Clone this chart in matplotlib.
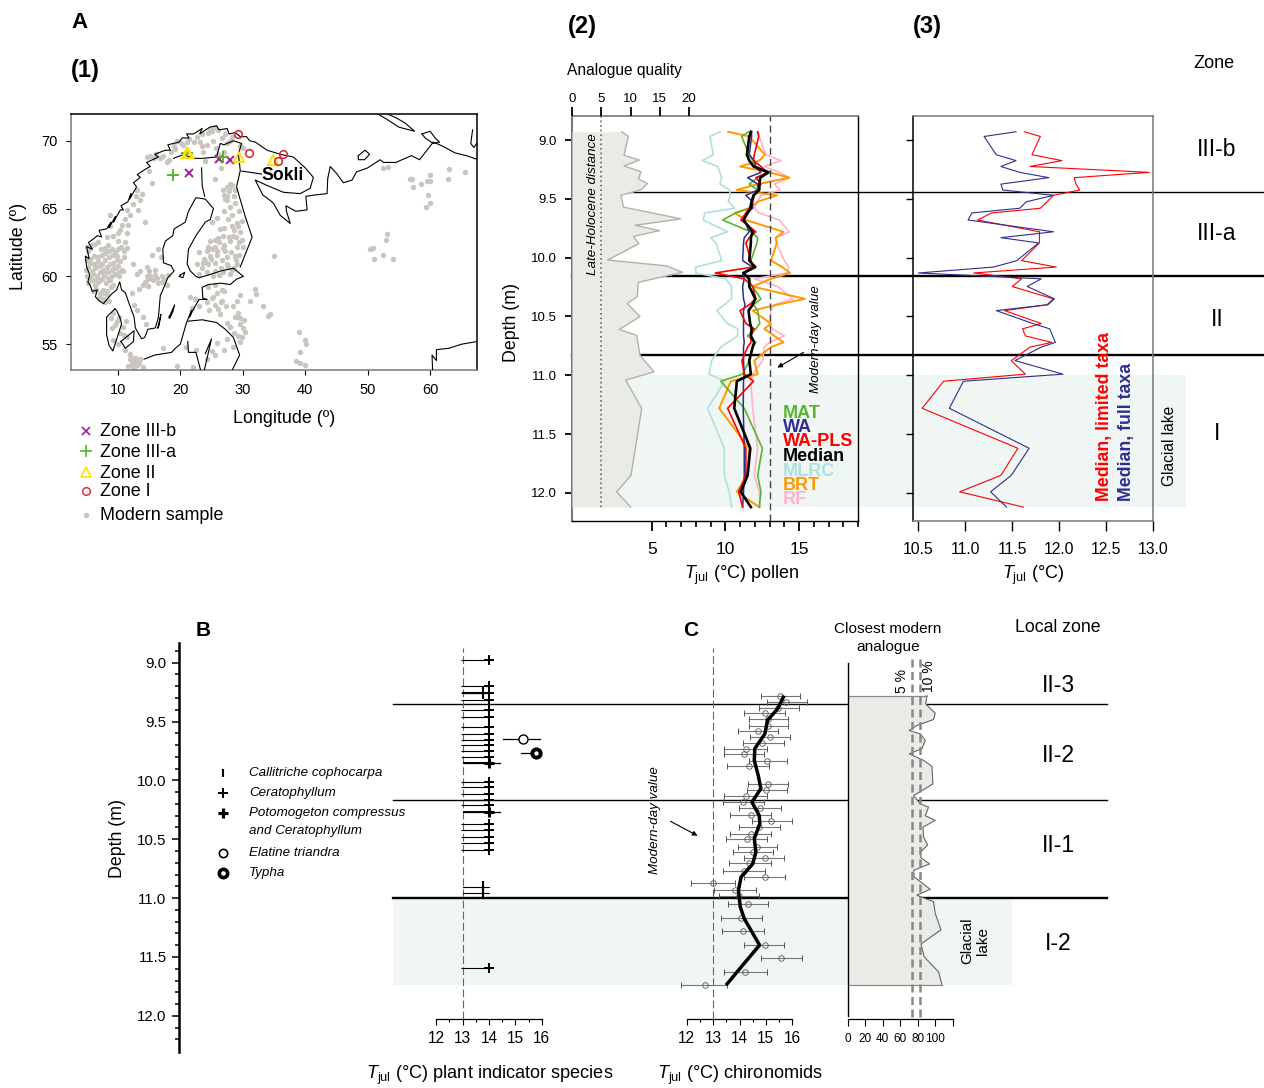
import matplotlib
matplotlib.use('Agg')
import matplotlib.pyplot as plt
from matplotlib.lines import Line2D
from matplotlib.patches import Rectangle
from matplotlib.transforms import blended_transform_factory

plt.rcParams['font.family'] = ['Liberation Sans', 'DejaVu Sans']
plt.rcParams['mathtext.fontset'] = 'custom'
plt.rcParams['mathtext.rm'] = 'Liberation Sans'
plt.rcParams['mathtext.it'] = 'Liberation Sans:italic'
plt.rcParams['mathtext.bf'] = 'Liberation Sans:bold'

W, H = 1264, 1088
GRAY = '#777777'

# map: modern samples (lon, lat)
sample_lon = [25.6,24.8,23.2,23.7,22.2,19.5,19.0,14.7,15.8,16.8,17.9,15.0,15.5,13.6,13.3,11.5,14.4,8.8,10.4,11.5,
    28.0,27.5,29.5,30.0,25.7,27.0,24.0,20.5,21.0,18.5,
    25.5,27.5,27.9,27.0,27.4,27.9,28.3,28.8,26.8,27.8,27.2,28.6,27.5,28.8,27.9,27.0,28.3,29.4,25.9,29.0,
    25.0,26.3,26.9,24.8,25.5,28.5,29.6,29.9,29.0,28.0,27.0,26.0,25.5,24.5,23.0,23.8,24.8,25.8,27.1,28.1,
    28.8,27.5,26.6,25.6,24.5,23.5,22.7,24.0,25.5,26.5,27.7,28.6,29.0,23.0,24.3,25.2,26.2,26.9,27.9,28.3,
    5.0,5.3,5.5,5.9,6.3,6.8,7.3,7.9,8.4,9.0,9.5,10.0,10.5,11.0,11.5,5.1,5.6,6.2,6.8,7.4,8.0,8.6,9.2,9.8,10.4,11.0,
    4.9,5.2,5.8,6.4,7.0,7.6,8.2,8.8,9.4,10.0,10.6,5.0,5.5,6.0,6.6,7.2,7.8,8.4,9.0,9.6,10.2,5.2,5.7,6.3,6.9,7.5,8.1,8.7,9.3,
    6.0,6.5,7.1,7.7,8.3,8.9,7.0,7.6,8.2,8.0,8.6,11.2,11.7,8.7,9.2,10.1,12.4,
    13.1,14.6,14.9,15.2,16.0,16.3,17.0,17.4,18.0,15.4,16.5,16.9,14.8,13.4,14.0,
    12.2,12.6,13.0,14.0,14.5,
    8.9,9.3,9.8,10.2,9.0,9.5,10.8,11.3,10.4,11.0,9.3,10.0,11.5,12.0,12.7,13.0,13.5,14.0,12.5,13.2,
    24.5,25.5,26.7,25.3,27.0,26.5,26.1,29.0,28.4,29.6,29.2,28.7,27.5,28.0,
    28.0,28.6,29.6,27.5,28.4,27.0,25.5,25.8,25.0,20.9,22.5,17.2,19.5,22.0,24.3,
    31.9,32.1,31.1,33.3,34.1,34.4,39.0,40.0,40.2,39.1,38.5,39.2,39.9,35.0,
    52.5,53.3,56.7,57.1,58.5,59.5,60.0,57.3,59.9,59.6,60.0,59.4,63.0,62.8,65.6,
    50.3,50.8,51.0,52.5,52.9,53.1,54.0]
sample_lat = [71.0,70.9,69.9,69.2,69.9,70.0,69.6,68.8,68.7,68.7,68.4,67.8,66.9,65.6,64.9,64.9,64.0,63.7,63.4,63.2,
    70.0,69.8,69.6,69.5,69.5,69.2,68.5,69.7,69.9,69.2,
    67.2,66.6,66.6,66.0,65.9,66.8,66.7,66.4,66.4,66.3,65.7,65.9,65.6,65.4,65.1,64.8,64.5,64.8,64.3,63.9,
    64.0,63.5,63.0,62.6,62.7,63.0,63.3,62.7,62.2,62.6,62.3,62.8,62.2,62.2,61.8,61.3,61.5,61.9,61.9,61.8,
    61.5,61.4,61.2,61.0,60.9,60.6,60.9,61.1,60.4,60.6,60.7,60.6,60.9,60.2,60.3,60.0,60.1,60.3,60.2,60.5,
    62.2,61.9,62.1,62.3,62.4,62.5,62.0,62.1,62.3,62.0,61.8,62.0,62.2,61.9,62.1,61.2,61.3,61.5,61.4,61.6,61.2,61.4,61.6,61.2,61.1,61.4,
    60.5,60.7,60.4,60.6,60.8,60.5,60.7,60.9,60.6,60.8,60.5,60.0,59.9,60.2,60.0,60.3,60.1,60.3,60.0,60.2,60.0,59.5,59.7,59.4,59.6,59.8,59.5,59.7,59.4,
    58.9,59.1,58.8,59.0,58.9,59.2,58.4,58.3,58.6,58.1,58.2,62.5,63.8,64.5,63.0,62.6,60.9,
    60.2,60.0,59.8,60.0,60.1,59.9,60.0,59.8,60.1,61.6,62.0,61.4,59.3,59.1,59.4,
    58.8,57.9,57.5,57.0,56.5,
    56.9,57.3,56.7,57.0,56.2,56.4,56.3,56.7,55.8,55.7,55.3,55.0,55.5,54.3,54.0,53.5,53.9,53.3,53.3,53.7,
    59.2,59.4,59.0,58.5,58.9,58.1,57.6,58.2,57.8,58.6,57.3,57.0,56.6,56.3,
    56.3,55.8,55.2,55.4,54.8,54.6,54.2,55.1,54.5,54.8,54.6,54.7,53.4,53.3,53.9,
    59.1,58.7,58.2,57.8,57.1,57.2,55.9,55.3,55.0,54.4,53.8,53.6,53.5,61.5,
    68.0,68.1,67.2,67.2,66.8,67.0,67.5,66.6,67.0,66.0,65.4,65.1,67.9,67.2,67.7,
    62.0,62.1,61.3,61.6,62.7,63.1,61.3]
# second batch, denser parts of the network
extra_lon = [15.2,16.1,17.2,18.2,19.2,20.1,21.4,22.6,23.5,24.4,
    25.1,26.1,27.1,28.3,26.6,25.2,24.3,23.4,26.0,26.5,
    13.1,13.8,12.9,12.4,12.0,11.2,10.6,10.0,9.2,8.3,
    27.6,28.2,27.0,28.6,29.2,29.8,29.4,28.9,27.4,26.2,
    25.0,24.2,23.6,26.8,25.9,24.9,27.8,28.9,29.4,30.0,
    14.3,14.9,15.6,16.4,17.1,17.8,15.0,16.0,14.6,13.5,
    5.4,6.0,6.6,7.2,7.8,8.4,9.0,9.6,10.2,10.8,
    5.6,6.2,6.8,7.4,8.0,8.6,9.2,9.8,7.1,7.7,
    11.6,12.2,12.8,13.4,11.9,12.5,13.1,11.2,12.0,12.8,
    24.2,25.0,25.8,26.6,27.3,24.6,25.6,26.3,29.6,30.2,
    29.0,29.5,30.0,30.4,29.2,29.8,21.6,22.3,23.0,21.9]
extra_lat = [68.9,69.0,68.9,68.6,69.4,69.8,70.1,70.3,70.5,70.6,
    70.7,70.8,70.5,70.3,70.2,70.0,69.7,69.6,69.0,68.0,
    66.4,66.1,65.9,65.3,64.5,64.2,63.8,63.2,63.0,62.9,
    64.2,63.7,63.6,63.4,63.7,64.1,61.6,61.2,60.9,62.5,
    62.0,61.9,61.0,62.1,61.6,61.3,62.9,62.9,62.5,62.2,
    59.6,59.3,59.7,59.5,59.6,59.4,60.4,60.5,60.7,60.4,
    59.9,59.7,59.9,59.7,60.2,59.9,60.5,60.6,60.3,60.4,
    61.0,60.9,61.1,60.9,61.7,61.9,61.0,61.5,58.7,58.8,
    53.4,53.6,53.4,53.6,53.9,53.8,53.7,54.6,54.2,54.0,
    58.1,58.4,58.8,58.2,57.8,57.5,57.9,57.2,56.9,56.8,
    57.0,56.5,56.2,55.9,55.6,55.5,58.5,58.3,57.8,57.7]

zone3b_lon = [26.2, 28.0, 21.4]
zone3b_lat = [68.62, 68.6, 67.6]
zone3a_lon = [18.75, 26.9, 21.15]
zone3a_lat = [67.5, 68.8, 69.1]
zone2_lon = [21.15, 21.3, 21.0, 29.4, 34.9]
zone2_lat = [69.07, 69.07, 69.07, 68.8, 68.6]
zone1_lon = [29.2, 31.0, 36.4, 35.7]
zone1_lat = [70.5, 69.1, 69.0, 68.5]

coast_segments = [
    # norway coast, kola, white sea and russian arctic
    ([7.7,7.0,6.4,6.7,5.9,5.6,5.2,5.5,5.0,4.8,5.4,5.0,5.9,5.3,6.2,6.7,7.4,7.0,8.2,8.9,8.6,9.6,9.3,10.4,10.9,10.5,11.6,12.1,11.9,13.0,12.5,13.6,13.1,14.4,15.2,14.6,16.5,15.9,17.6,18.4,18.0,19.8,20.3,21.4,21.0,22.1,23.5,23.1,24.7,25.8,26.2,27.5,27.8,28.8,29.6,30.6,31.1,32.0,33.9,36.0,38.1,40.0,41.3,40.8,39.2,36.5,33.9,32.0,33.2,34.1,34.9,36.0,37.6,37.0,36.9,38.5,40.3,40.1,41.5,43.5,43.6,44.0,45.0,46.1,47.5,48.2,50.0,52.0,52.5,54.5,57.0,58.3,60.5,62.0,64.0,65.8,67.7],
     [58.0,58.2,58.5,59.0,58.9,59.3,59.6,60.1,60.7,61.5,61.3,62.2,62.0,62.5,62.8,63.0,62.9,63.4,63.5,64.0,63.6,64.4,64.0,64.9,64.9,65.2,65.5,66.1,65.7,66.6,66.9,67.3,67.5,67.9,68.1,68.4,68.8,69.0,69.3,69.3,69.7,69.9,70.2,70.2,70.5,70.5,70.9,70.5,71.0,71.1,70.8,70.9,70.5,70.6,70.3,70.3,70.0,69.9,69.3,69.0,68.8,68.0,67.3,66.5,66.1,66.2,66.7,67.1,66.0,65.7,65.4,64.5,63.9,64.8,65.2,64.8,64.9,65.9,66.0,66.1,67.2,68.1,67.6,66.9,67.1,67.7,68.0,68.6,68.4,68.4,68.9,68.6,69.9,69.6,69.1,68.9,68.6]),
    # skagerrak, swedish west coast, south sweden, baltic coast, bothnia, finland
    ([7.7,9.0,9.8,10.3,10.6,11.2,11.8,12.6,12.8,13.8,14.3,14.8,16.0,16.5,16.8,17.2,18.0,19.0,18.5,17.3,17.2,17.6,18.8,19.0,20.8,21.3,22.5,24.0,25.3,24.8,24.0,22.5,21.3,21.1,21.6,22.5,23.0,24.5,26.5,28.5,30.1,29.0,28.0,26.5,24.5,23.5,23.6,24.3,23.0,22.0,21.5,21.8,21.0,20.0,19.2,18.6,15.9,14.2],
     [58.0,58.7,59.0,59.6,59.0,58.8,58.0,57.0,56.2,55.4,55.5,56.1,56.2,57.0,58.6,59.0,59.9,60.4,60.8,61.0,62.0,62.6,63.0,63.5,64.0,64.8,65.8,65.7,65.0,64.2,64.0,63.0,62.0,60.9,60.4,60.0,59.9,60.1,60.4,60.6,60.0,59.8,59.4,59.5,59.4,59.2,58.4,58.3,58.3,57.5,57.0,57.5,56.6,55.0,54.7,54.4,54.2,53.9]),
    # continental borders
    ([18.9,20.6,22.0,23.5,25.8,26.4,27.0,28.5,29.8,29.3,29.6,29.0,30.4,31.5,29.6],
     [68.7,69.0,68.7,68.7,68.8,69.8,69.7,70.0,69.8,69.0,67.8,66.6,64.4,62.9,60.7]),
    ([23.4,23.5,23.9],[68.0,66.7,65.9]),
    ([21.3,23.5,25.8,27.2,28.5,29.5,28.2],[56.7,56.8,56.6,56.1,55.5,54.2,53.0]),
    ([21.2,21.3,22.5,23.3],[55.2,54.4,54.4,53.0]),
    ([24.0,25.0,23.8],[54.3,55.4,53.0]),
    # gotland, oland, aaland, denmark
    ([18.2,19.1,18.8,18.3,18.2],[57.0,57.9,57.4,56.9,57.0]),
    ([16.4,16.9,16.6,16.4],[56.2,57.2,56.4,56.2]),
    ([20.0,20.7,20.4,19.8,20.0],[60.1,60.3,59.9,60.0,60.1]),
    ([9.5,8.2,8.2,8.6,9.2,10.6,10.3,9.8,9.5],[57.6,57.0,55.7,54.9,54.5,56.5,57.0,57.5,57.6]),
    ([10.5,12.6,12.5,11.2,10.5],[55.2,56.0,55.2,54.7,55.2]),
    # kolguev, novaya zemlya, caspian side coast
    ([48.5,49.6,50.3,49.5,48.5,48.5],[68.9,69.3,69.0,68.6,68.6,68.9]),
    ([51.5,53.0,55.0,57.5,56.0,54.5,52.5,51.5],[72.0,71.6,71.0,70.7,71.3,71.7,72.1,72.0]),
    ([58.7,60.0,60.8,61.5,60.5,59.2,58.7],[70.5,70.7,70.2,69.9,69.8,70.2,70.5]),
    ([66.8,66.5,67.0,67.6],[70.8,69.8,69.5,69.9]),
    ([60.4,60.3,61.0,61.0,63.0,65.0,67.5],[53.0,54.2,53.8,54.6,54.7,55.0,55.2]),
]

# zone boundaries, depth (m)
zones_top = [9.44, 10.155, 10.83]
zones_bot = [9.35, 10.165, 11.0]

# A2 analogue quality
aq_depth = [8.93,8.97,9.13,9.17,9.22,9.27,9.33,9.37,9.42,9.47,9.57,9.67,9.725,9.77,9.82,9.88,10.02,10.07,10.125,10.15,10.21,10.33,10.39,10.5,10.61,10.66,10.83,10.97,11.04,11.28,11.85,11.99,12.12]
aq_vals = [8.49,9.63,8.89,11.51,8.89,11.79,11.34,12.88,11.91,8.38,8.78,18.58,10.77,14.93,10.48,11.45,6.10,16.18,18.92,16.5,11.34,11.17,9.46,11.62,8.09,11.05,11.62,14.02,9.17,11.91,10.09,7.63,10.03]

# reconstructions shared core depths
depths = [8.93,8.97,9.125,9.175,9.225,9.275,9.32,9.375,9.425,9.47,
    9.525,9.58,9.62,9.68,9.78,9.83,9.875,10.025,10.08,10.13,
    10.18,10.245,10.35,10.40,10.45,10.56,10.605,10.665,10.72,10.76,
    10.875,10.99,11.05,11.28,11.62,11.85,11.99,12.12]

median = [11.73,11.62,11.46,11.62,11.91,12.91,12.37,12.30,12.30,11.91,
    11.78,11.73,11.51,11.23,11.85,11.73,11.73,11.62,12.03,11.23,
    11.62,11.62,12.03,11.85,11.57,11.68,11.78,11.73,11.96,11.85,
    11.62,11.73,10.78,10.60,11.69,11.51,11.05,11.73]
wapls = [12.19,12.26,11.96,11.91,12.41,12.86,12.07,12.41,12.19,11.96,
    11.85,11.62,11.39,11.05,12.07,11.62,11.39,11.73,11.85,9.31,
    11.28,11.85,12.07,11.62,10.99,11.39,11.96,11.73,11.73,11.51,
    11.12,11.28,11.91,10.15,11.39,11.39,10.90,11.17]
wa = [11.78,11.78,11.62,11.96,12.07,12.41,11.51,12.19,12.19,11.39,
    11.85,11.85,11.39,11.28,11.62,11.28,11.23,11.17,11.85,11.17,
    11.28,11.17,11.23,11.33,11.23,11.23,11.23,11.23,11.28,11.23,
    11.23,11.28,11.23,11.21,11.28,11.28,11.23,11.17]
mat = [11.57,11.10,11.62,11.85,12.07,13.09,12.19,11.62,12.19,11.96,
    11.73,11.62,10.71,9.81,11.73,12.19,12.14,11.73,11.96,11.28,
    11.51,11.85,12.41,11.91,12.19,12.33,12.07,11.51,12.07,11.85,
    11.62,11.17,9.69,11.28,12.51,12.19,12.41,12.30]
brt = [10.19,11.62,12.68,12.30,11.00,12.98,14.34,12.19,10.76,13.50,
    12.19,11.62,10.64,11.39,13.94,13.42,13.49,13.10,13.86,14.38,
    13.09,11.85,15.39,13.50,11.85,13.09,12.64,13.32,13.95,13.09,
    11.96,12.19,10.37,9.58,11.62,11.51,10.78,12.30]
mlrc = [9.63,8.95,9.18,8.44,9.48,9.63,9.75,9.63,10.31,10.31,
    10.20,10.65,8.60,8.50,10.15,9.01,9.35,9.76,7.99,7.99,
    10.03,10.42,10.42,9.92,9.42,10.15,10.83,10.83,10.15,9.69,
    9.06,8.90,9.97,8.79,9.92,9.92,10.26,10.42]
rf = [12.19,12.30,12.75,13.77,12.64,13.66,14.34,13.32,13.73,12.41,
    12.19,11.96,12.30,13.66,14.34,13.44,13.44,14.00,14.30,14.20,
    11.96,13.55,14.57,13.32,13.10,12.98,13.20,14.00,12.98,12.64,
    12.53,11.85,11.73,11.85,12.19,11.96,12.30,12.35]

# A3 medians
limited_taxa = [11.63,11.80,11.71,12.03,11.69,12.96,12.16,12.18,12.22,11.94,
    11.87,11.80,11.28,11.13,11.79,11.79,11.79,11.60,11.97,11.09,
    11.60,11.50,11.94,11.87,11.42,11.81,11.61,11.64,11.92,11.69,
    11.49,11.64,10.77,10.54,11.56,11.38,10.94,11.62]
full_taxa = [11.54,11.20,11.33,11.54,11.38,11.58,11.89,11.38,11.40,11.94,
    11.65,11.58,11.07,11.03,11.94,11.38,11.78,11.55,11.30,10.50,
    11.81,11.66,11.95,11.88,11.33,11.72,11.90,11.93,11.96,11.81,
    11.53,12.04,10.98,10.83,11.68,11.49,11.27,11.44]

# B plant indicator species
cerato_depth = [8.98,9.20,9.26,9.32,9.40,9.46,9.55,9.605,9.66,9.70,9.75,9.80,10.015,10.06,10.115,10.17,10.21,10.37,10.425,10.48,10.53,10.59,11.59]
cerato_low = 12.92
pota_depth = [9.855,10.265]
pota_low = 13.06
pota_high = 14.42
calli_depth = [9.26,10.905,10.955]
calli_t = 13.77
indicator_t = 14.0
elatine = (15.3, 14.53, 15.93, 9.65)
typha = (15.78, 15.2, 16.0, 9.77)

# C chironomids
chiro_depth = [9.28,9.336,9.387,9.43,9.478,9.534,9.58,9.63,9.684,9.73,9.78,9.834,9.882,10.03,10.08,10.13,10.185,10.235,10.295,10.343,10.397,10.456,10.50,10.563,10.61,10.66,10.705,10.77,10.82,10.87,10.93,10.98,11.05,11.17,11.28,11.395,11.505,11.627,11.737]
chiro_t = [15.55,15.75,15.47,14.95,15.09,15.09,14.70,15.16,14.87,14.25,14.17,15.05,14.35,15.09,15.01,14.25,14.13,14.77,14.42,15.20,14.75,14.42,14.28,14.67,14.50,14.95,14.37,14.17,14.95,13.01,13.84,13.99,14.31,14.07,14.13,14.95,15.58,14.21,12.70]
chiro_low = [14.82,15.03,14.75,14.18,14.35,14.37,13.96,14.41,14.14,13.43,13.42,14.35,13.54,14.32,14.30,13.43,13.39,13.97,13.65,14.47,13.99,13.65,13.50,13.93,13.77,14.18,13.59,13.38,14.18,12.18,13.03,13.24,13.55,13.31,13.35,14.18,14.82,13.40,11.77]
chiro_high = [16.30,16.55,16.26,15.73,15.83,15.83,15.44,15.92,15.67,15.06,14.94,15.79,15.13,15.83,15.79,15.04,14.94,15.57,15.21,15.99,15.54,15.20,15.06,15.42,15.28,15.70,15.21,14.97,15.74,13.84,14.64,14.74,15.08,14.86,14.94,15.70,16.35,15.06,13.53]
smooth_depth = [9.28,9.393,9.49,9.605,9.73,9.83,9.958,10.07,10.185,10.30,10.37,10.495,10.61,10.71,10.82,10.934,11.075,11.174,11.40,11.57,11.74]
smooth_t = [15.69,15.44,15.06,14.96,14.58,14.56,14.71,14.81,14.47,14.75,14.77,14.56,14.62,14.50,14.06,13.96,14.03,14.18,14.76,14.12,13.49]

# closest modern analogue
cma_depth = [9.28,9.35,9.43,9.483,9.534,9.577,9.605,9.66,9.73,9.775,9.83,9.88,10.03,10.13,10.2,10.227,10.30,10.34,10.397,10.48,10.55,10.61,10.657,10.71,10.764,10.82,10.925,10.976,11.03,11.13,11.27,11.39,11.5,11.627,11.735]
cma_vals = [90.5,89,100,98,79,70.3,83,88.6,84.8,70.3,86.7,96.2,97.3,75.3,83,92.4,88.6,100,86,86.7,91.3,83,83.7,93.5,75.3,76,94.3,79,98,100,106.5,83.7,87.5,103.8,107.6]

recon_labels = ['MAT', 'WA', 'WA-PLS', 'Median', 'MLRC', 'BRT', 'RF']
recon_colors = ['#5ab52b', '#2e2e8f', '#ff0000', '#000000', '#aee0e0', '#ff9900', '#ffb3cb']
zone_names_top = ['III-b', 'III-a', 'II', 'I']
zone_names_bot = ['II-3', 'II-2', 'II-1', 'I-2']


def add_ax(x0, y0, x1, y1):
    ax = fig.add_axes([x0/W, 1-y1/H, (x1-x0)/W, (y1-y0)/H])
    ax.patch.set_alpha(0)
    return ax

def txt(x, y, s, size=12, ha='left', va='center', **kw):
    fig.text(x/W, 1-(y+1)/H, s, fontsize=size, ha=ha, va=va, **kw)

def hline(ax, x0, x1, d, lw):
    tr = blended_transform_factory(fig.transFigure, ax.transData)
    fig.add_artist(Line2D([x0/W, x1/W], [d, d], color='k', lw=lw, transform=tr, zorder=-1))

def band(ax, x0, x1, d0, d1):
    tr = blended_transform_factory(fig.transFigure, ax.transData)
    fig.add_artist(Rectangle((x0/W, d0), (x1-x0)/W, d1-d0, fc='#f0f6f4', ec='none', transform=tr, zorder=-2))

def tr_px(x, y):
    return (x/W, 1-y/H)

fig = plt.figure(figsize=(W/100, H/100), dpi=100)

# A1 map
ax = add_ax(71, 114, 477, 370)
ax.set_xlim(2.5, 67.5)
ax.set_ylim(53.1, 71.97)
ax.plot(sample_lon, sample_lat, 'o', color='#c9c6bf', ms=3.9, mew=0, zorder=2)
ax.plot(extra_lon, extra_lat, 'o', color='#c9c6bf', ms=3.9, mew=0, zorder=2)
for lons, lats in coast_segments:
    ax.plot(lons, lats, color='k', lw=0.8, zorder=3)
ax.plot(zone3b_lon, zone3b_lat, 'x', color='#a0209a', ms=6, mew=1.4, zorder=4)
ax.plot(zone3a_lon, zone3a_lat, '+', color='#5ab52b', ms=8, mew=1.4, zorder=4)
ax.plot(zone2_lon, zone2_lat, '^', mfc='none', mec='#ffe000', ms=7.5, mew=1.4, zorder=4)
ax.plot(zone1_lon, zone1_lat, 'o', mfc='none', mec='#d9303a', ms=5.5, mew=1.2, zorder=4)
ax.plot([29.85, 33.0], [67.76, 67.55], color='k', lw=0.8, zorder=4)
ax.set_xticks([10, 20, 30, 40, 50, 60])
ax.set_yticks([55, 60, 65, 70])
ax.tick_params(labelsize=10.5, length=3.5, width=0.8, pad=6)
for s in ax.spines.values():
    s.set_color(GRAY)
    s.set_linewidth(1.1)
ax.spines['top'].set_color('k')
ax.spines['right'].set_color('k')
txt(261.5, 174, 'Sokli', 12.7, weight='bold')

txt(284, 417, 'Longitude (º)', 12.9, ha='center')
txt(19, 245, 'Latitude (º)', 12.9, ha='center', rotation=90)
leg_y = [431, 451, 472, 491, 515]
leg_names = ['Zone III-b', 'Zone III-a', 'Zone II', 'Zone I', 'Modern sample']
leg_marks = [dict(marker='x', color='#a0209a', ms=6, mew=1.2), dict(marker='+', color='#5ab52b', ms=8, mew=1.2),
             dict(marker='^', mfc='none', mec='#ffe000', ms=7, mew=1.2, color='none'),
             dict(marker='o', mfc='none', mec='#d9303a', ms=5.5, mew=1.1, color='none'),
             dict(marker='o', color='#c9c6bf', ms=3.9, mew=0)]
for y, name, mk in zip(leg_y, leg_names, leg_marks):
    fig.add_artist(Line2D([86/W], [1-y/H], ls='none', **mk))
    txt(100.5, y, name, 12.9)

# A2 pollen
ax2 = add_ax(572, 116, 858, 521)
ax2.set_xlim(-0.41, 19.0)
ax2.set_ylim(12.238, 8.796)
band(ax2, 572, 1186, 11.0, 12.115)
hline(ax2, 572, 1264, zones_top[0], 1.0)
hline(ax2, 572, 1264, zones_top[1], 1.7)
hline(ax2, 572, 1264, zones_top[2], 1.7)
for vals, col, lw in [(mlrc, recon_colors[4], 1.2), (rf, recon_colors[6], 1.2), (brt, recon_colors[5], 1.4),
                      (mat, recon_colors[0], 1.2), (wa, recon_colors[1], 1.1), (wapls, recon_colors[2], 1.2),
                      (median, recon_colors[3], 1.9)]:
    ax2.plot(vals, depths, color=col, lw=lw)
ax2.plot([13.05, 13.05], [12.238, 8.796], color='#444444', lw=1.0, ls=(0, (5, 3)))
ax2.set_yticks([9, 9.5, 10, 10.5, 11, 11.5, 12])
ax2.set_yticklabels(['9.0', '9.5', '10.0', '10.5', '11.0', '11.5', '12.0'])
ax2.set_xticks([5, 10, 15])
ax2.set_xticks(range(6, 20), minor=True)
ax2.tick_params(axis='y', length=5, width=1.3, labelsize=9.5, pad=6)
ax2.tick_params(axis='x', length=7.5, width=1.3, labelsize=12.5, pad=7.5)
ax2.tick_params(axis='x', which='minor', length=4.5, width=1.2)
ax2.spines['left'].set_color(GRAY)
ax2.spines['left'].set_linewidth(1.5)
ax2.spines['top'].set_color(GRAY)
ax2.spines['top'].set_linewidth(1.2)
ax2.spines['right'].set_linewidth(1.0)
ax2.spines['bottom'].set_linewidth(1.0)

ax2t = ax2.twiny()
ax2t.patch.set_alpha(0)
ax2t.set_xlim(0, 286/5.85)
ax2t.fill_betweenx(aq_depth, 0, aq_vals, color='#e9ebe6', lw=0)
ax2t.plot(aq_vals, aq_depth, color='#b7b0a8', lw=1.0)
ax2t.plot([5, 5], [8.796, 12.115], color='#555555', lw=1.1, ls=(0, (1, 2)))
ax2t.set_xticks([0, 5, 10, 15, 20])
ax2t.tick_params(axis='x', length=6.5, width=1.3, labelsize=9.5, pad=1.5)
for s in ax2t.spines.values():
    s.set_visible(False)

txt(567, 70, 'Analogue quality', 11.2)
txt(593, 203, 'Late-Holocene distance', 9.7, ha='center', rotation=90, style='italic')
txt(816, 338, 'Modern-day value', 9.6, ha='center', rotation=90, style='italic')
ax2.annotate('', xy=tr_px(775, 369), xycoords='figure fraction', xytext=tr_px(806, 351), textcoords='figure fraction',
             arrowprops=dict(arrowstyle='-|>', color='k', lw=0.8, mutation_scale=7))
for y, name, col in zip([412, 426, 440, 455, 470, 484, 498], recon_labels, recon_colors):
    txt(783, y, name, 13, color=col, weight='bold')
txt(511, 322, 'Depth (m)', 12.8, ha='center', rotation=90)
txt(742, 574, r'$\mathit{T}_{\mathrm{jul}}$ (°C) pollen', 13, ha='center')
txt(1033, 574, r'$\mathit{T}_{\mathrm{jul}}$ (°C)', 13, ha='center')

# A3
ax3 = add_ax(913, 116, 1153, 521)
ax3.set_xlim(10.443, 13.0)
ax3.set_ylim(12.238, 8.796)
ax3.plot(limited_taxa, depths, color='#ff0000', lw=0.8)
ax3.plot(full_taxa, depths, color='#2e2e8f', lw=0.8)
ax3.set_xticks([10.5, 11, 11.5, 12, 12.5, 13])
ax3.set_xticklabels(['10.5', '11.0', '11.5', '12.0', '12.5', '13.0'])
ax3.set_yticks([9, 9.5, 10, 10.5, 11, 11.5, 12])
ax3.set_yticklabels([])
ax3.tick_params(axis='y', length=5, width=1.0)
ax3.tick_params(axis='x', length=7.5, width=1.0, labelsize=11.3, pad=7.5)
for name, col in [('left', 'k'), ('top', GRAY), ('right', GRAY), ('bottom', GRAY)]:
    ax3.spines[name].set_color(col)
    ax3.spines[name].set_linewidth(1.1)
txt(1105, 500, 'Median, limited taxa', 12.8, ha='center', va='bottom', rotation=90, color='#ff0000', weight='bold')
txt(1127, 500, 'Median, full taxa', 12.8, ha='center', va='bottom', rotation=90, color='#2e2e8f', weight='bold')
txt(1169, 445, 'Glacial lake', 11.2, ha='center', rotation=90)
txt(1193, 62, 'Zone', 13)
for y, name in zip([148, 232, 318, 433], zone_names_top):
    txt(1217, y, name, 16.5, ha='center')

txt(71, 22, 'A', 16, weight='bold')
txt(71, 70, '(1)', 17, weight='bold')
txt(568, 25, '(2)', 17, weight='bold')
txt(913, 25, '(3)', 17, weight='bold')

# B depth axis
bot_ylim = (12.307, 8.833)
axd = add_ax(179, 643, 180, 1052)
axd.set_ylim(*bot_ylim)
axd.set_xticks([])
axd.set_yticks([9, 9.5, 10, 10.5, 11, 11.5, 12])
axd.set_yticklabels(['9.0', '9.5', '10.0', '10.5', '11.0', '11.5', '12.0'])
axd.set_yticks([8.9 + 0.1*i for i in range(34)], minor=True)
axd.tick_params(axis='y', length=5, width=1.1, labelsize=10.8, pad=4)
axd.tick_params(axis='y', which='minor', length=2.8, width=1.1)
for name in ['top', 'right', 'bottom']:
    axd.spines[name].set_visible(False)
axd.spines['left'].set_linewidth(1.8)
txt(118, 838, 'Depth (m)', 12.8, ha='center', rotation=90)

band(axd, 393, 1012, 11.0, 11.74)
hline(axd, 393, 1107, zones_bot[0], 1.0)
hline(axd, 393, 1107, zones_bot[1], 1.0)
hline(axd, 393, 1107, zones_bot[2], 1.7)

bot_top = 643
bot_lim = (9 + (1019-662.7)/117.7, bot_ylim[1])

def bottom_axis(x0, x1, xlim):
    a = add_ax(x0, bot_top, x1, 1019)
    a.set_xlim(*xlim)
    a.set_ylim(*bot_lim)
    a.set_yticks([])
    for name in ['top', 'right', 'left']:
        a.spines[name].set_visible(False)
    a.spines['bottom'].set_linewidth(0.9)
    return a

axb = bottom_axis(436.3, 541.7, (12, 16))
axb.plot([13, 13], [bot_lim[0], 8.875], color='#666666', lw=0.8, ls=(0, (7, 3)))
for d in cerato_depth:
    axb.plot([cerato_low, indicator_t + 0.13], [d, d], color='k', lw=0.8, solid_capstyle='butt')
axb.plot([indicator_t]*len(cerato_depth), cerato_depth, '+', color='k', ms=7, mew=1.4)
for d in pota_depth:
    axb.plot([pota_low, pota_high], [d, d], color='k', lw=0.9)
    axb.plot([pota_low, indicator_t], [d, d], color='k', lw=1.4)
axb.plot([indicator_t]*len(pota_depth), pota_depth, '+', color='k', ms=7, mew=2.2)
for d in calli_depth:
    axb.plot([13.0, indicator_t], [d, d], color='k', lw=0.8)
axb.plot([calli_t]*len(calli_depth), calli_depth, '|', color='k', ms=9, mew=1.5)
axb.plot([calli_t, calli_t], [10.905, 10.955], color='k', lw=1.5)
axb.plot([13.0, calli_t], [9.26, 9.26], color='k', lw=1.5)
axb.plot(elatine[1:3], [elatine[3]]*2, color='k', lw=0.9)
axb.plot(elatine[0], elatine[3], 'o', mfc='white', mec='k', ms=6.5, mew=1.0)
axb.plot(typha[1:3], [typha[3]]*2, color='k', lw=0.9)
axb.plot(typha[0], typha[3], 'o', mfc='white', mec='k', ms=6, mew=2.8, clip_on=False)

axc = bottom_axis(686.7, 792.3, (12, 16))
axc.plot([13, 13], [bot_lim[0], 8.875], color='#666666', lw=0.8, ls=(0, (7, 3)))
for t0, t1, d in zip(chiro_low, chiro_high, chiro_depth):
    axc.plot([t0, t1], [d, d], color='#777777', lw=0.8, clip_on=False)
    axc.plot([t0, t1], [d, d], '|', color='#555555', ms=4.5, mew=0.7, clip_on=False)
axc.plot(chiro_t, chiro_depth, 'o', mfc='none', mec='#555555', ms=4, mew=0.6, clip_on=False)
axc.plot(smooth_t, smooth_depth, color='k', lw=2.5, solid_capstyle='butt')

for a in (axb, axc):
    a.set_xticks([12, 13, 14, 15, 16])
    a.set_xticks([12.5, 13.5, 14.5, 15.5], minor=True)
    a.tick_params(axis='x', length=4.5, width=0.8, labelsize=11.2, pad=4)
    a.tick_params(axis='x', which='minor', length=2.5, width=0.8)

# closest modern analogue
axm = bottom_axis(847.5, 952.8, (0, 120))
axm.fill_betweenx(cma_depth, 0, cma_vals, color='#e9ebe6', lw=0)
axm.plot(cma_vals, cma_depth, color='#666666', lw=0.8)
axm.plot([0, cma_vals[0]], [cma_depth[0]]*2, color='#888888', lw=0.9)
axm.plot([0, cma_vals[-1]], [cma_depth[-1]]*2, color='#888888', lw=0.9)
for v in [73, 83]:
    axm.plot([v, v], [12.01, 8.96], color='#8c8785', lw=1.8, ls=(0, (3.2, 1.8)))
axm.spines['left'].set_visible(True)
axm.spines['left'].set_bounds(9.0, 12.0)
axm.spines['left'].set_linewidth(1.0)
axm.set_xticks([0, 20, 40, 60, 80, 100, 120])
axm.set_xticklabels(['0', '20', '40', '60', '80', '100', ''])
axm.tick_params(axis='x', length=5, width=0.8, labelsize=8.5, pad=5)

txt(902, 680, '5 %', 10, ha='center', rotation=90)
txt(929, 675, '10 %', 10, ha='center', rotation=90)
txt(888, 628, 'Closest modern', 11.1, ha='center')
txt(888, 646, 'analogue', 11.1, ha='center')
txt(1058, 627, 'Local zone', 12.7, ha='center')
for y, name in zip([685, 754, 845, 943], zone_names_bot):
    txt(1058, y, name, 16.5, ha='center')
txt(975, 940, 'Glacial\nlake', 11, ha='center', rotation=90, linespacing=1.1)

txt(203, 629, 'B', 15, ha='center', weight='bold')
txt(691, 629, 'C', 15, ha='center', weight='bold')
txt(490, 1074, r'$\mathit{T}_{\mathrm{jul}}$ (°C) plant indicator species', 13.1, ha='center')
txt(740, 1074, r'$\mathit{T}_{\mathrm{jul}}$ (°C) chironomids', 13.1, ha='center')
txt(655, 819, 'Modern-day value', 9.6, ha='center', rotation=90, style='italic')
axc.annotate('', xy=tr_px(700, 837), xycoords='figure fraction', xytext=tr_px(668, 820), textcoords='figure fraction',
             arrowprops=dict(arrowstyle='-|>', color='k', lw=0.8, mutation_scale=7))

# B legend
key_y = [772.7, 792.7, 812.7, 853, 873]
key_marks = [dict(marker='|', ms=6, mew=1.5, color='k'), dict(marker='+', ms=7, mew=1.4, color='k'),
             dict(marker='+', ms=7, mew=2.3, color='k'), dict(marker='o', ms=6, mew=1.2, mfc='white', mec='k', color='none'),
             dict(marker='o', ms=6, mew=2.6, mfc='white', mec='k', color='none')]
for y, mk in zip(key_y, key_marks):
    fig.add_artist(Line2D([223/W], [1-y/H], ls='none', **mk))
for y, name in zip([772, 792, 812, 830, 852.5, 872],
                   ['Callitriche cophocarpa', 'Ceratophyllum', 'Potomogeton compressus',
                    'and Ceratophyllum', 'Elatine triandra', 'Typha']):
    txt(249, y, name, 9.65, style='italic')

fig.savefig('out.png', dpi=100)
